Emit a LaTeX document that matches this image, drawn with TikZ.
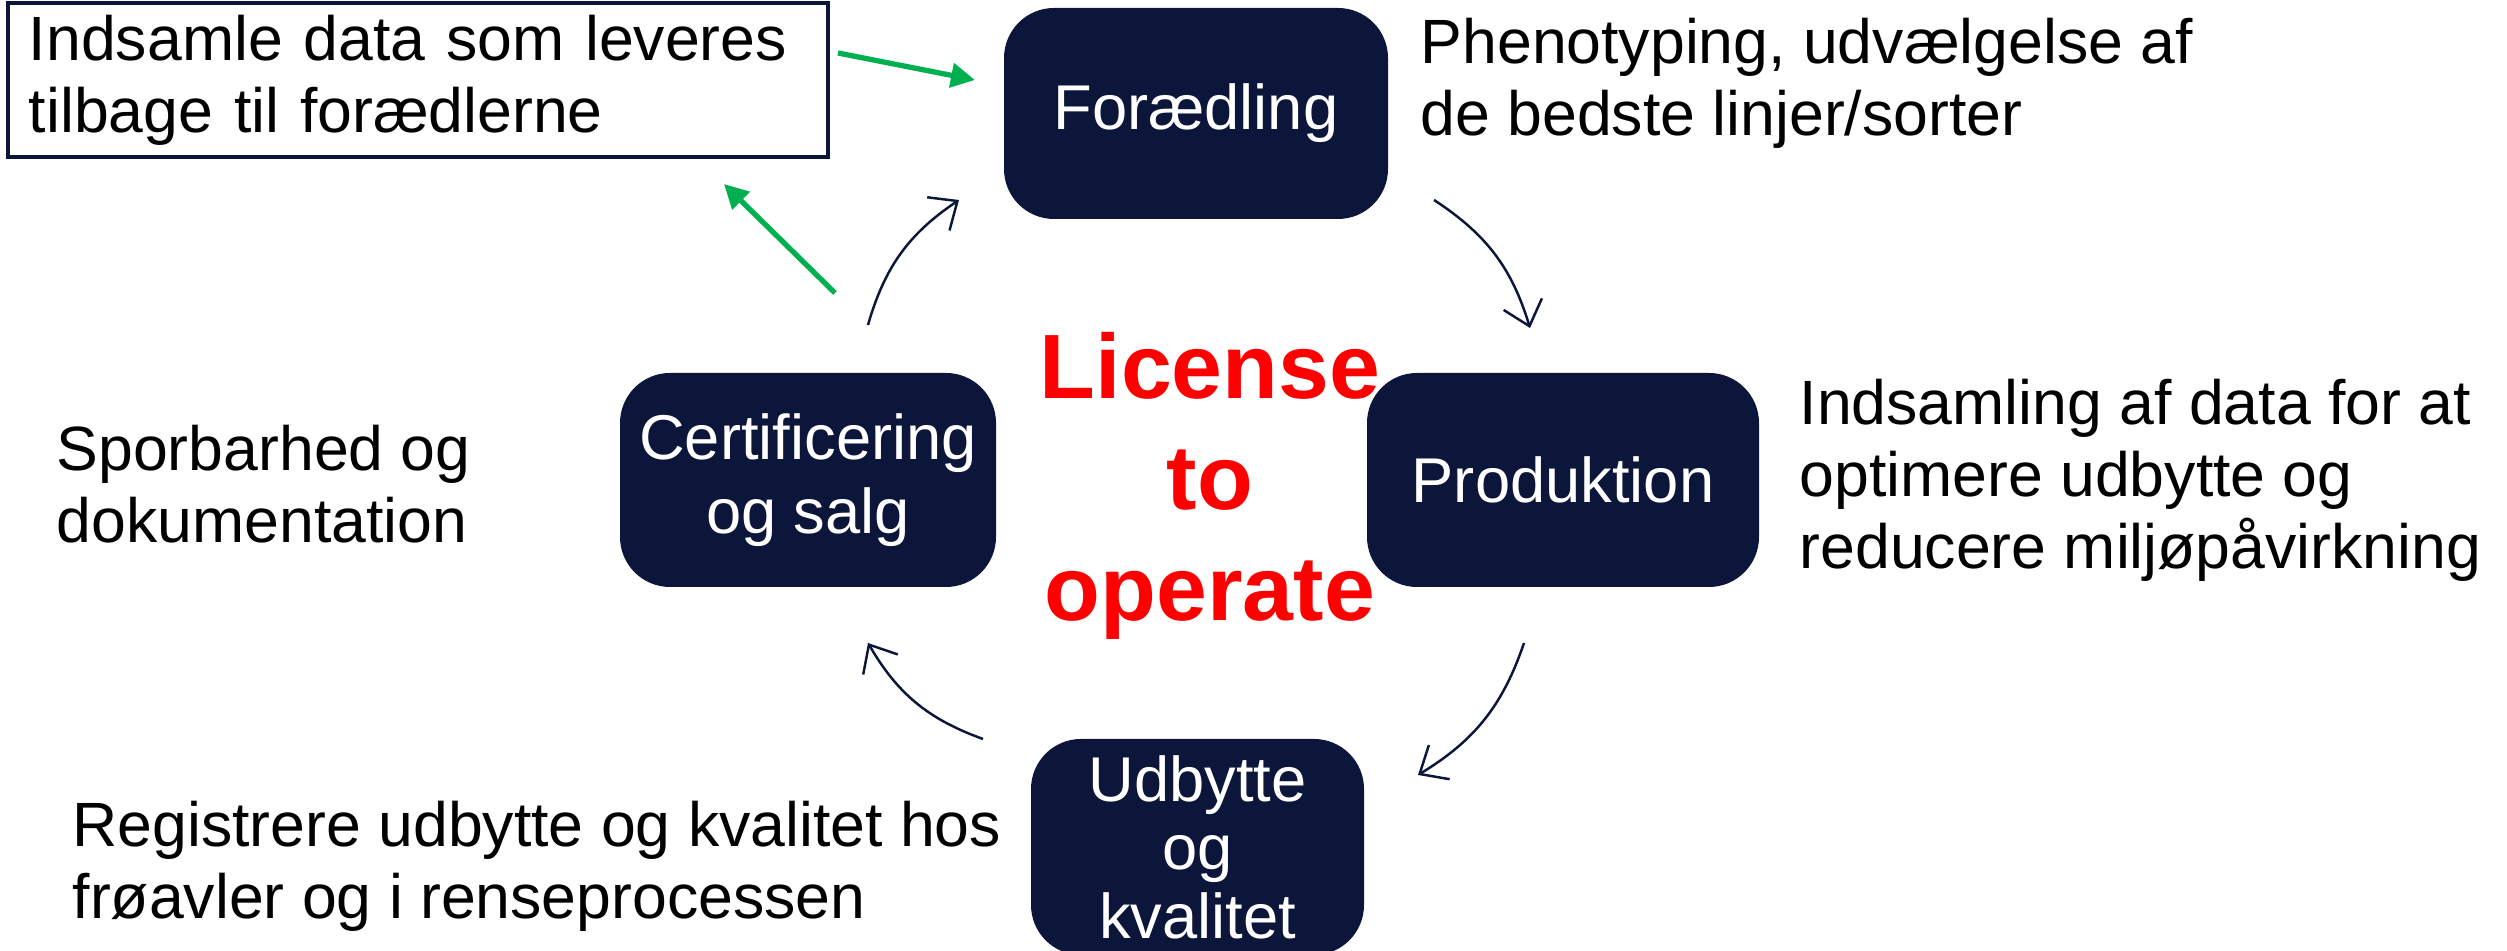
\documentclass[tikz,border=0pt]{standalone}
\usepackage{fontspec}
\setmainfont{Liberation Sans}
\usetikzlibrary{arrows.meta}
\definecolor{navy}{RGB}{12,22,58}
\definecolor{lgreen}{RGB}{0,176,80}

\begin{document}
\begin{tikzpicture}[
  main node/.style={rectangle,rounded corners=0.5cm,fill=navy,text=white,align=center,
    font=\fontsize{18}{21}\selectfont,minimum height=2.14cm},
  side text/.style={anchor=west,inner sep=0pt,align=left,font=\fontsize{17.8}{20.5}\selectfont},
  cycle arrow/.style={->,>={Straight Barb[length=2.3mm,width=4mm]},navy,line width=0.7pt,bend left=20},
  green arrow/.style={->,>={Triangle[length=2.4mm,width=2.4mm]},lgreen,line width=1.5pt}]

  \useasboundingbox (0,0) rectangle (25.07,-9.51);

  % the four steps of the cycle
  \node[main node,minimum width=3.84cm,minimum height=2.11cm] (1) at (11.96,-1.135) {Forædling};
  \node[main node,minimum width=3.92cm] (2) at (15.63,-4.80) {Produktion};
  \node[main node,minimum width=3.33cm,minimum height=2.16cm,
    font=\fontsize{18}{19.5}\selectfont] (3) at (11.975,-8.47) {Udbytte\\og\\kvalitet};
  \node[main node,minimum width=3.76cm] (4) at (8.08,-4.80) {Certificering\\og salg};

  \node[text=red,align=center,font=\fontsize{26}{31.5}\selectfont\bfseries] (5) at (12.10,-4.86) {License\\to\\operate};

  \node[draw=navy,line width=1pt,minimum width=8.2cm,minimum height=1.5cm,inner xsep=0.21cm,
    text width=7.78cm,align=left,font=\fontsize{17.8}{20.5}\selectfont] (6) at (4.18,-0.80)
    {Indsamle data som leveres\\tilbage til forædlerne};

  % descriptions next to the steps
  \node[side text] (7) at (14.20,-0.83) {Phenotyping, udvælgelse af\\de bedste linjer/sorter};
  \node[side text] (8) at (17.99,-4.80) {Indsamling af data for at\\optimere udbytte og\\reducere miljøpåvirkning};
  \node[side text] (9) at (0.56,-4.84) {Sporbarhed og\\dokumentation};
  \node[side text] (10) at (0.72,-8.66) {Registrere udbytte og kvalitet hos\\frøavler og i renseprocessen};

  % arrow ends
  \coordinate (4a) at (8.68,-3.25);
  \coordinate (1a) at (9.59,-2.00);
  \coordinate (1b) at (14.34,-2.00);
  \coordinate (2a) at (15.30,-3.28);
  \coordinate (2b) at (15.24,-6.43);
  \coordinate (3a) at (14.18,-7.75);
  \coordinate (3b) at (9.83,-7.39);
  \coordinate (4b) at (8.68,-6.43);

  \coordinate (6a) at (8.38,-0.53);
  \coordinate (1c) at (9.75,-0.80);
  \coordinate (4c) at (8.35,-2.93);
  \coordinate (6b) at (7.24,-1.84);

  \path[cycle arrow]
    (4a) edge (1a)
    (1b) edge (2a)
    (2b) edge (3a)
    (3b) edge (4b);

  \path[green arrow]
    (6a) edge (1c)
    (4c) edge (6b);
\end{tikzpicture}
\end{document}
